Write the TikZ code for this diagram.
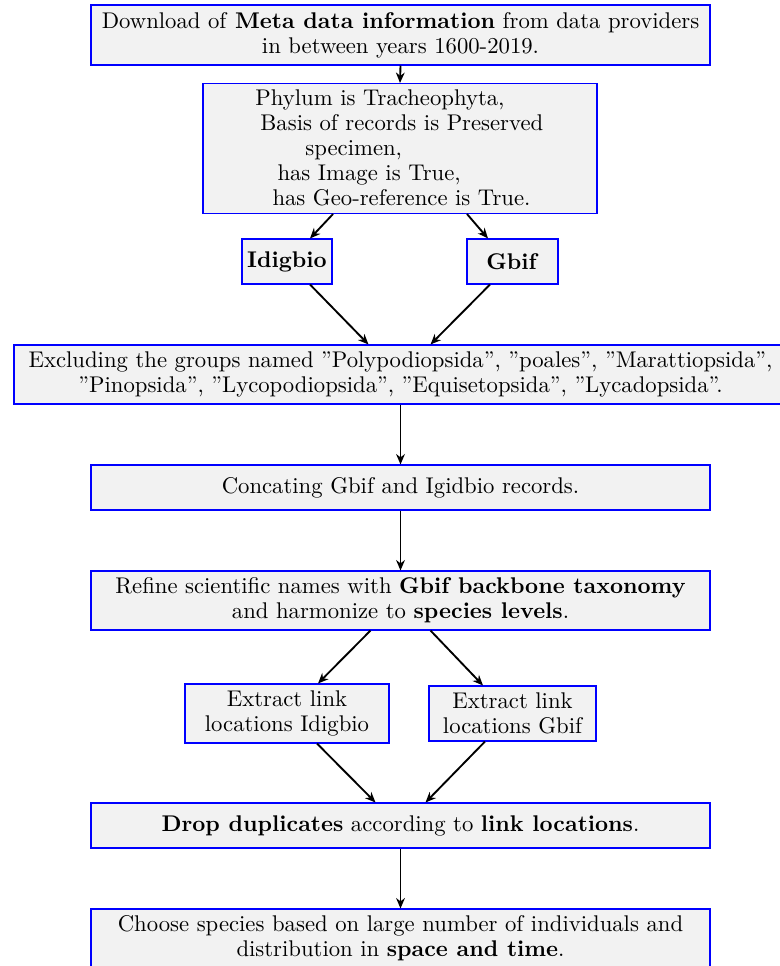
\documentclass[tikz,border=0pt]{standalone}
\usetikzlibrary{arrows.meta,calc}
\def\pu{0.48pt}
\tikzset{
  box/.style={draw=blue, line width=0.5pt, fill=black!5, inner sep=0pt, align=center},
  arr/.style={-{Stealth[length=5pt,width=4.2pt,inset=1.6pt]}, line width=0.9pt, black},
}
\begin{document}
\begin{tikzpicture}[x=0.48pt,y=-0.48pt,font=\fontsize{10.9pt}{12pt}\selectfont]
\useasboundingbox (0,0) rectangle (779,966);
\node[box, minimum width=619*\pu, minimum height=60*\pu] (top) at (400.5,35)
  {Download of \textbf{Meta data information} from data providers\\ in between years 1600-2019.};
\node[box, minimum width=394*\pu, minimum height=130*\pu] (phylum) at (400,148.5) {};
\node[anchor=west, inner sep=0pt, align=left] (phylumtext) at (255,148)
  {Phylum is Tracheophyta,\\
   \hspace*{2.4pt}Basis of records is Preserved\\
   \hspace*{24pt}specimen,\\
   \hspace*{10.6pt}has Image is True,\\
   \hspace*{8.2pt}has Geo-reference is True.};
\node[box, minimum width=90*\pu, minimum height=45*\pu] (idigbio) at (287,261.5) {\textbf{Idigbio}};
\node[box, minimum width=91*\pu, minimum height=45*\pu] (gbif) at (512.5,261.5) {\textbf{Gbif}};
\node[box, minimum width=773*\pu, minimum height=59*\pu] (excl) at (400.5,374.5)
  {Excluding the groups named ''Polypodiopsida'', ''poales'', ''Marattiopsida'',\\
   ''Pinopsida'', ''Lycopodiopsida'', ''Equisetopsida'', ''Lycadopsida''.};
\node[box, minimum width=619*\pu, minimum height=45*\pu] (concat) at (400.5,487.5)
  {Concating Gbif and Igidbio records.};
\node[box, minimum width=619*\pu, minimum height=59*\pu] (refine) at (400.5,600.5)
  {Refine scientific names with \textbf{Gbif backbone taxonomy}\\ and harmonize to \textbf{species levels}.};
\node[box, minimum width=204*\pu, minimum height=59*\pu] (exidig) at (287,713.5)
  {Extract link\\ locations Idigbio};
\node[box, minimum width=167*\pu, minimum height=55*\pu] (exgbif) at (512.5,713.5)
  {Extract link\\ locations Gbif};
\node[box, minimum width=619*\pu, minimum height=45*\pu] (drop) at (400.5,825.5)
  {\textbf{Drop duplicates} according to \textbf{link locations}.};
\node[box, minimum width=619*\pu, minimum height=59*\pu] (choose) at (400.5,938.5)
  {Choose species based on large number of individuals and\\ distribution in \textbf{space and time}.};

\draw[arr] (top.south) -- (phylum.north);
\draw[arr] ($(phylum.south)+(-67,0)$) -- ($(idigbio.north)+(23,0)$);
\draw[arr] ($(phylum.south)+(67,0)$) -- ($(gbif.north)+(-24.5,0)$);
\draw[arr] ($(idigbio.south)+(23,0)$) -- ($(excl.north)+(-32,0)$);
\draw[arr] ($(gbif.south)+(-22.5,0)$) -- ($(excl.north)+(30,0)$);
\draw[arr] (excl.south) -- (concat.north);
\draw[arr] (concat.south) -- (refine.north);
\draw[arr] ($(refine.south)+(-30,0)$) -- ($(exidig.north)+(31,0)$);
\draw[arr] ($(refine.south)+(30,0)$) -- ($(exgbif.north)+(-29.5,0)$);
\draw[arr] ($(exidig.south)+(30,0)$) -- ($(drop.north)+(-25,0)$);
\draw[arr] ($(exgbif.south)+(-27.5,0)$) -- ($(drop.north)+(25,0)$);
\draw[arr] (drop.south) -- (choose.north);
\end{tikzpicture}
\end{document}
